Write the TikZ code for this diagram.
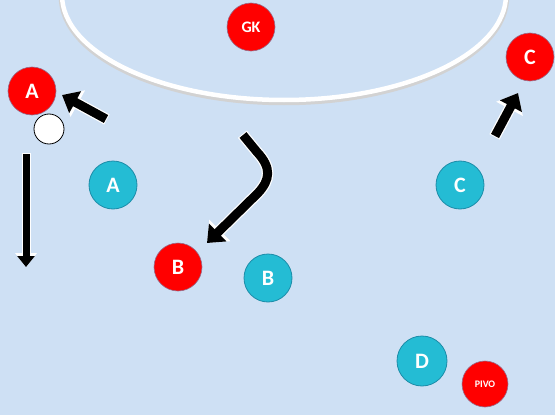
\documentclass[tikz,border=0pt]{standalone}
\usepackage{fontspec}
\setmainfont{Carlito}
\usetikzlibrary{arrows.meta}
\definecolor{bg}{RGB}{206,224,244}
\definecolor{tealfill}{RGB}{36,188,212}
\definecolor{tealedge}{RGB}{28,140,168}
\definecolor{rededge}{RGB}{150,110,140}
\tikzset{
  redp/.style={circle, fill=red, draw=rededge, line width=0.6pt, minimum size=48pt, inner sep=0pt, text=white, font=\bfseries\fontsize{22}{22}\selectfont},
  tealp/.style={circle, fill=tealfill, draw=tealedge, line width=0.8pt, minimum size=48pt, inner sep=0pt, text=white, font=\bfseries\fontsize{22}{22}\selectfont},
  ballp/.style={circle, fill=white, draw=black, line width=0.8pt, minimum size=30pt, inner sep=0pt},
  runw/.style={draw=white, line width=11.5pt, -{Triangle[width=29pt,length=18pt]}},
  runb/.style={draw=black, line width=9pt, -{Triangle[width=24pt,length=15pt]}},
  passw/.style={draw=white, line width=9pt, -{Triangle[width=21pt,length=14pt]}},
  passb/.style={draw=black, line width=7pt, -{Triangle[width=17pt,length=11pt]}},
}
\begin{document}
\begin{tikzpicture}[x=1pt,y=-1pt]
\fill[bg] (0,0) rectangle (555,415);
\useasboundingbox (0,0) rectangle (555,415);
% goal area line
\begin{scope}
\clip (0,0) rectangle (555,415);
\draw[gray!35, line width=4.5pt] (284,-3) ellipse [x radius=223, y radius=106];
\draw[white, line width=4.5pt] (284,-5) ellipse [x radius=222, y radius=105];
\end{scope}
% players
\node[redp, font=\bfseries\fontsize{16}{16}\selectfont] (gk) at (251,27) {GK};
\node[redp] (ra) at (32,91) {A};
\node[ballp] (ball) at (49,129) {};
\node[tealp] (ta) at (113,185) {A};
\node[redp] (rc) at (530,57) {C};
\node[tealp] (tc) at (460,185) {C};
\node[redp] (rb) at (178,267) {B};
\node[tealp] (tb) at (268,278) {B};
\node[tealp, minimum size=50pt] (td) at (422,361) {D};
\node[redp, minimum size=46pt, font=\bfseries\fontsize{10}{10}\selectfont] (pivo) at (485,384) {PIVO};
% movement arrow endpoints
\coordinate (a1) at (106,119);
\coordinate (a2) at (62,95);
\coordinate (p1) at (26,154);
\coordinate (p2) at (26,267);
\coordinate (b1) at (243,135);
\coordinate (b2) at (207,243);
\coordinate (c1) at (495,136);
\coordinate (c2) at (518,93);
% arrows
\draw[runw, shorten <=-1pt] (a1) -- (a2);
\draw[runb] (a1) -- (a2);
\draw[passw, shorten <=-1pt] (p1) -- (p2);
\draw[passb] (p1) -- (p2);
\draw[runw, shorten <=-1pt] (b1) -- (257,152) .. controls (272,168) and (270,180) .. (258,193) -- (b2);
\draw[runb] (b1) -- (257,152) .. controls (272,168) and (270,180) .. (258,193) -- (b2);
\draw[runw, shorten <=-1pt] (c1) -- (c2);
\draw[runb] (c1) -- (c2);
\end{tikzpicture}
\end{document}
